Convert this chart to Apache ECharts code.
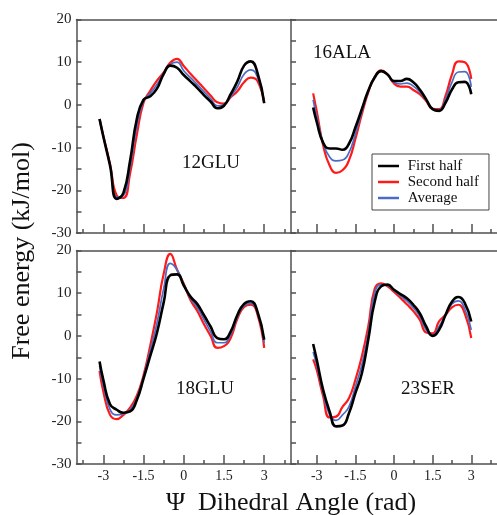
<!DOCTYPE html>
<html>
<head>
<meta charset="utf-8">
<script src="https://cdn.jsdelivr.net/npm/echarts@6/dist/echarts.min.js"></script>
<style>
  html, body { margin: 0; padding: 0; background: #fff; }
  #chart { width: 497px; height: 515px; }
</style>
</head>
<body>
<div id="chart"></div>
<script>
// ---- data ----
const psi = [-3.14, -3.0, -2.75, -2.5, -2.25, -2.0, -1.75, -1.5, -1.25, -1.0, -0.75, -0.5, -0.25, 0, 0.25, 0.5, 0.75, 1.0, 1.25, 1.5, 1.75, 2.0, 2.25, 2.5, 2.75, 3.0];

const panelNames = ['12GLU', '16ALA', '18GLU', '23SER'];
const seriesNames = ['First half', 'Second half', 'Average'];

const glu12First  = [-3.3, -7.4, -14.2, -22.0, -20.6, -13.0, -3.3, 1.2, 2.0, 3.8, 7.2, 9.2, 8.7, 7.0, 5.5, 4.0, 2.3, 0.8, -0.8, -0.2, 2.5, 5.5, 9.2, 10.2, 7.5, 0.4];
const glu12Second = [-3.3, -7.2, -13.8, -21.2, -21.8, -16.0, -7.0, 0.5, 3.3, 5.7, 7.6, 9.9, 10.8, 9.1, 7.3, 5.6, 3.9, 2.2, 0.6, 0.3, 1.8, 3.2, 5.3, 6.4, 5.6, 0.4];
const glu12Avg    = [-3.3, -7.3, -14.0, -21.6, -21.2, -14.5, -5.0, 0.9, 2.7, 4.8, 7.4, 9.5, 10.0, 8.0, 6.4, 4.8, 3.1, 1.5, -0.2, 0.1, 2.0, 4.2, 7.2, 8.2, 6.5, 0.4];

const ala16First  = [-0.6, -4.0, -8.9, -10.2, -10.2, -10.5, -9.1, -5.3, -1.0, 3.3, 6.4, 7.9, 7.1, 5.6, 5.6, 6.1, 5.3, 3.6, 1.3, -1.0, -1.4, 0.5, 3.6, 5.3, 5.4, 2.5];
const ala16Second = [2.7, -1.5, -9.5, -14.2, -15.9, -15.3, -13.0, -8.0, -2.2, 2.9, 6.6, 8.1, 7.1, 5.0, 4.3, 4.3, 3.5, 2.5, 0.9, -0.9, -1.0, 2.1, 7.1, 10.2, 10.0, 6.1];
const ala16Avg    = [1.2, -2.8, -9.0, -12.2, -13.1, -12.9, -11.2, -6.8, -1.6, 3.1, 6.5, 8.0, 7.1, 5.3, 4.9, 5.1, 4.4, 3.0, 1.1, -0.9, -1.2, 1.3, 5.3, 7.7, 7.8, 4.2];

const glu18First  = [-6.0, -10.3, -16.0, -17.3, -18.0, -17.7, -15.0, -10.0, -4.7, 0.7, 7.8, 14.2, 14.4, 11.8, 9.2, 7.5, 4.9, 2.2, -0.5, -0.8, 1.0, 4.9, 7.5, 8.1, 5.7, -0.9];
const glu18Second = [-8.2, -13.0, -18.5, -19.5, -18.5, -16.8, -14.0, -9.2, -2.3, 5.5, 14.5, 19.2, 15.5, 12.2, 8.4, 5.9, 2.8, 0.0, -2.8, -2.4, -0.5, 4.0, 6.8, 7.3, 5.0, -2.8];
const glu18Avg    = [-7.0, -11.5, -17.2, -18.5, -18.2, -17.3, -14.5, -9.6, -3.5, 3.0, 11.0, 17.0, 15.5, 12.0, 8.8, 6.7, 3.9, 1.0, -1.6, -1.6, 0.3, 4.4, 7.1, 7.6, 5.4, -1.6];

const ser23First  = [-1.9, -5.6, -12.7, -17.7, -21.2, -21.0, -18.1, -13.4, -8.8, -0.9, 8.0, 11.6, 12.0, 10.8, 9.8, 8.8, 7.3, 5.3, 2.2, 0.0, 1.4, 4.9, 8.0, 9.1, 7.7, 3.4];
const ser23Second = [-5.5, -8.0, -14.2, -19.1, -18.9, -16.6, -14.6, -10.3, -4.8, 2.2, 11.0, 12.3, 11.6, 10.3, 8.9, 7.4, 5.8, 3.8, 0.8, 0.6, 3.4, 4.9, 6.7, 7.3, 5.2, -0.5];
const ser23Avg    = [-3.75, -6.8, -13.4, -18.5, -19.8, -18.5, -16.6, -11.9, -6.8, 0.6, 10.0, 12.0, 11.8, 10.6, 9.4, 8.2, 6.6, 4.6, 1.4, 0.2, 2.2, 4.9, 7.5, 8.2, 6.3, 1.4];

const xMajorTicks = [-3, -1.5, 0, 1.5, 3];
const xMinorTicks = [-3.75, -2.25, -0.75, 0.75, 2.25, 3.75];
const yTickLabels = [-30, -20, -10, 0, 10, 20];

const panelData = [
  [glu12First, glu12Second, glu12Avg],
  [ala16First, ala16Second, ala16Avg],
  [glu18First, glu18Second, glu18Avg],
  [ser23First, ser23Second, ser23Avg]
];

// ---- styling / layout ----
const FONT = "'Liberation Serif', 'DejaVu Serif', serif";
const AX = '#505050';
const colors = { 'First half': '#000000', 'Second half': '#ff1a1a', 'Average': '#4a6cc6' };
const widths = { 'First half': 2.6, 'Second half': 2.2, 'Average': 1.7 };
const drawOrder = [1, 2, 0]; // red, blue, black on top

const rects = [
  { left: 76.5, top: 19.5, width: 214.5, height: 213.5 },
  { left: 291, top: 19.5, width: 213.5, height: 213.5 },
  { left: 76.5, top: 250.5, width: 214.5, height: 213.5 },
  { left: 291, top: 250.5, width: 213.5, height: 213.5 }
];
const labelPos = [
  { x: 211, y: 163 },
  { x: 342, y: 53 },
  { x: 205, y: 389 },
  { x: 428, y: 389 }
];

const grid = [], xAxis = [], yAxis = [], series = [];

rects.forEach((r, i) => {
  const isLeft = (i % 2 === 0);
  const isBottom = (i >= 2);
  grid.push(Object.assign({ containLabel: false }, r));
  grid.push(Object.assign({ containLabel: false }, r));
  const g = grid.length - 2, gm = grid.length - 1;

  const xMain = xAxis.length;
  xAxis.push({
    type: 'value', gridIndex: g, position: 'bottom', min: -4, max: 4,
    axisLine: { show: true, onZero: false, lineStyle: { color: AX, width: 1.5 } },
    axisTick: { show: true, inside: true, length: 9, customValues: xMajorTicks, lineStyle: { color: AX, width: 1.5 } },
    axisLabel: { show: isBottom, customValues: xMajorTicks, margin: 5, color: '#222', fontFamily: FONT, fontSize: 14 },
    splitLine: { show: false }
  });
  xAxis.push({
    type: 'value', gridIndex: g, position: 'top', min: -4, max: 4,
    axisLine: { show: true, onZero: false, lineStyle: { color: AX, width: 1.5 } },
    axisTick: { show: false }, axisLabel: { show: false }, splitLine: { show: false }
  });
  xAxis.push({
    type: 'value', gridIndex: gm, position: 'bottom', min: -4, max: 4,
    axisLine: { show: false, onZero: false },
    axisTick: { show: true, inside: true, length: 4, customValues: xMinorTicks, lineStyle: { color: AX, width: 1.5 } },
    axisLabel: { show: false }, splitLine: { show: false }
  });

  const yMain = yAxis.length;
  yAxis.push({
    type: 'value', gridIndex: g, position: 'left', min: -30, max: 20, interval: 5,
    axisLine: { show: true, onZero: false, lineStyle: { color: AX, width: 1.5 } },
    axisTick: { show: true, inside: true, length: 5, lineStyle: { color: AX, width: 1.5 } },
    axisLabel: {
      show: isLeft, margin: 5, color: '#222', fontFamily: FONT, fontSize: 15,
      formatter: v => (yTickLabels.indexOf(v) >= 0 ? String(v) : '')
    },
    splitLine: { show: false }
  });
  yAxis.push({ type: 'value', gridIndex: gm, min: -30, max: 20, show: false });

  drawOrder.forEach(k => {
    const name = seriesNames[k];
    const vals = panelData[i][k];
    series.push({
      name: name, type: 'line', xAxisIndex: xMain, yAxisIndex: yMain,
      data: psi.map((x, j) => [x, vals[j]]),
      smooth: 0.5, showSymbol: false, symbol: 'none', silent: true,
      lineStyle: { color: colors[name], width: widths[name] },
      itemStyle: { color: colors[name] }
    });
  });
});

const graphics = panelNames.map((n, i) => ({
  type: 'text', x: labelPos[i].x, y: labelPos[i].y, z: 10,
  style: { text: n, fill: '#111', font: '19px ' + FONT, align: 'center', verticalAlign: 'middle' }
}));
graphics.push({
  type: 'text', x: 291, y: 503, z: 10,
  style: { text: 'Ψ  Dihedral Angle (rad)', fill: '#111', font: '26px ' + FONT, align: 'center', verticalAlign: 'middle' }
});
graphics.push({
  type: 'text', x: 22, y: 251, rotation: Math.PI / 2, z: 10,
  style: { text: 'Free energy (kJ/mol)', fill: '#111', font: '26px ' + FONT, align: 'center', verticalAlign: 'middle' }
});

const chart = echarts.init(document.getElementById('chart'), null, { renderer: 'canvas' });
chart.setOption({
  animation: false,
  backgroundColor: '#fff',
  grid: grid,
  xAxis: xAxis,
  yAxis: yAxis,
  legend: {
    data: seriesNames,
    orient: 'vertical',
    left: 372, top: 154,
    backgroundColor: '#fff',
    borderColor: '#444', borderWidth: 1,
    padding: [4, 10, 4, 6],
    itemGap: 0,
    itemWidth: 21, itemHeight: 2.5,
    icon: 'rect',
    formatter: n => ' ' + n,
    textStyle: { fontFamily: FONT, fontSize: 15, color: '#111', lineHeight: 16 },
    selectedMode: false,
    z: 20
  },
  graphic: graphics,
  series: series
});
</script>
</body>
</html>
